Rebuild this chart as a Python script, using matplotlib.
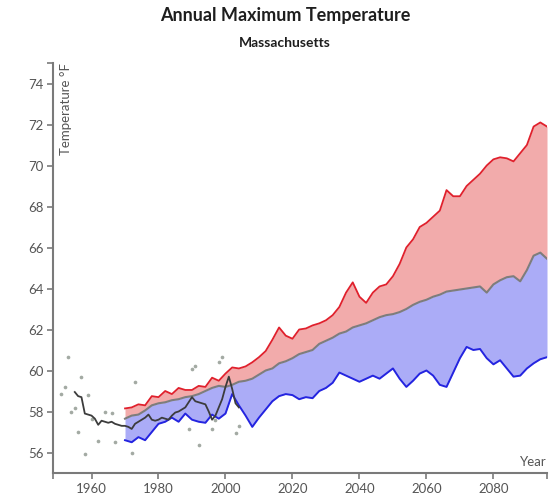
import matplotlib
matplotlib.use("Agg")
import matplotlib.pyplot as plt
import numpy as np

plt.rcParams['font.family'] = ['Lato', 'DejaVu Sans']

# ---- data ----
proj_years = list(range(1970, 2097, 2))
high = [58.15, 58.2, 58.35, 58.3, 58.75, 58.7, 59.0, 58.85, 59.15, 59.05,
        59.05, 59.25, 59.2, 59.65, 59.5, 59.85, 60.15, 60.1, 60.2, 60.4,
        60.65, 60.95, 61.5, 62.1, 61.7, 61.55, 62.0, 62.05, 62.2, 62.3,
        62.45, 62.7, 63.1, 63.8, 64.3, 63.6, 63.3, 63.8, 64.1, 64.2,
        64.6, 65.2, 66.0, 66.4, 67.0, 67.2, 67.5, 67.8, 68.8, 68.5,
        68.5, 69.0, 69.3, 69.6, 70.0, 70.3, 70.4, 70.35, 70.2, 70.6,
        71.0, 71.9, 72.1, 71.9]
median = [57.65, 57.8, 57.85, 58.05, 58.3, 58.4, 58.45, 58.55, 58.6, 58.7,
          58.75, 58.85, 59.0, 59.15, 59.25, 59.2, 59.3, 59.45, 59.5, 59.6,
          59.8, 60.0, 60.1, 60.35, 60.45, 60.6, 60.8, 60.9, 61.0, 61.3,
          61.45, 61.6, 61.8, 61.9, 62.1, 62.2, 62.3, 62.45, 62.6, 62.7,
          62.75, 62.85, 63.0, 63.2, 63.35, 63.45, 63.6, 63.7, 63.85, 63.9,
          63.95, 64.0, 64.05, 64.1, 63.8, 64.2, 64.4, 64.55, 64.6, 64.35,
          64.9, 65.6, 65.75, 65.45]
low = [56.6, 56.5, 56.75, 56.6, 57.0, 57.4, 57.5, 57.7, 57.5, 57.9,
       57.6, 57.5, 57.45, 57.85, 57.65, 57.9, 58.85, 58.3, 57.8, 57.25,
       57.7, 58.1, 58.5, 58.75, 58.85, 58.8, 58.6, 58.7, 58.65, 59.0,
       59.15, 59.4, 59.9, 59.75, 59.6, 59.45, 59.6, 59.75, 59.6, 59.85,
       60.1, 59.6, 59.2, 59.5, 59.85, 60.0, 59.75, 59.3, 59.2, 59.9,
       60.6, 61.15, 61.0, 61.05, 60.6, 60.3, 60.5, 60.1, 59.7, 59.75,
       60.1, 60.35, 60.55, 60.65]

obs_line_years = list(range(1955, 2005))
obs_line = [58.95, 58.75, 58.7, 57.9, 57.85, 57.8, 57.65, 57.35, 57.55, 57.5,
            57.45, 57.5, 57.4, 57.35, 57.3, 57.3, 57.25, 57.15, 57.4, 57.5,
            57.6, 57.7, 57.85, 57.6, 57.55, 57.6, 57.7, 57.65, 57.6, 57.8,
            57.95, 58.0, 58.1, 58.2, 58.45, 58.7, 58.5, 58.45, 58.4, 58.35,
            58.0, 57.6, 57.8, 58.2, 58.6, 59.2, 59.7, 59.1, 58.4, 58.2]

obs_years = [1951, 1952, 1953, 1954, 1955, 1956, 1957, 1958, 1959, 1960,
             1962, 1964, 1966, 1967, 1972, 1973, 1989, 1990, 1991, 1992,
             1996, 1997, 1998, 1999, 2003, 2004]
obs_vals = [58.85, 59.2, 60.65, 58.0, 58.15, 57.0, 59.7, 55.95, 58.8, 57.65,
            56.55, 58.0, 57.95, 56.5, 56.0, 59.45, 57.15, 60.05, 60.2, 56.35,
            57.15, 57.6, 60.4, 60.65, 56.95, 57.3]

y_ticks = [56, 58, 60, 62, 64, 66, 68, 70, 72, 74]
x_ticks = [1960, 1980, 2000, 2020, 2040, 2060, 2080]

title = "Annual Maximum Temperature"
subtitle = "Massachusetts"
ylabel = "Temperature °F"
xlabel = "Year"

# ---- figure ----
W, H = 555, 498
fig = plt.figure(figsize=(W / 100, H / 100), dpi=100)
L, R, T, B = 53, 547, 63, 473
ax = fig.add_axes([L / W, 1 - B / H, (R - L) / W, (B - T) / H])

axis_col = '#7a7a7a'
txt_col = '#555555'

ax.fill_between(proj_years, median, high, color='#f2abab', lw=0, zorder=2)
ax.fill_between(proj_years, low, median, color='#abacf7', lw=0, zorder=2)
ax.plot(proj_years, high, color='#e0202c', lw=1.3, zorder=3)
ax.plot(proj_years, low, color='#2424e0', lw=1.4, zorder=3)
ax.plot(proj_years, median, color='#7d7d7d', lw=1.5, zorder=3)
ax.scatter(obs_years, obs_vals, s=7, color='#a3aaa3', lw=0, zorder=1)
ax.plot(obs_line_years, obs_line, color='#3c3c3c', lw=1.3, zorder=4)

ax.set_xlim(1948.5, 2096)
ax.set_ylim(55, 75)

for s in ['top', 'right']:
    ax.spines[s].set_visible(False)
for s in ['left', 'bottom']:
    ax.spines[s].set_color(axis_col)
    ax.spines[s].set_linewidth(1.5)

ax.set_xticks(x_ticks)
ax.set_yticks(y_ticks)
ax.set_xticks([1948.5, 2096], minor=True)
ax.set_yticks([75], minor=True)
ax.tick_params(axis='both', which='both', direction='out', length=4,
               width=1.2, color=axis_col, labelcolor=txt_col, labelsize=9.5)
ax.tick_params(axis='x', pad=3)
ax.tick_params(axis='y', pad=3)

ax.text(0.026, 1.0, ylabel, transform=ax.transAxes, rotation=90,
        ha='center', va='top', fontsize=9.5, color=txt_col)
ax.text(1.0, 0.012, xlabel, transform=ax.transAxes, ha='right',
        va='bottom', fontsize=9.5, color=txt_col)

fig.text(285 / W, 1 - 16 / H, title, ha='center', va='center',
         fontsize=13, fontweight='bold', color='#1e1e1e')
fig.text(285 / W, 1 - 43 / H, subtitle, ha='center', va='center',
         fontsize=10, fontweight='bold', color='#1e1e1e')

fig.savefig('out.png', dpi=100)
